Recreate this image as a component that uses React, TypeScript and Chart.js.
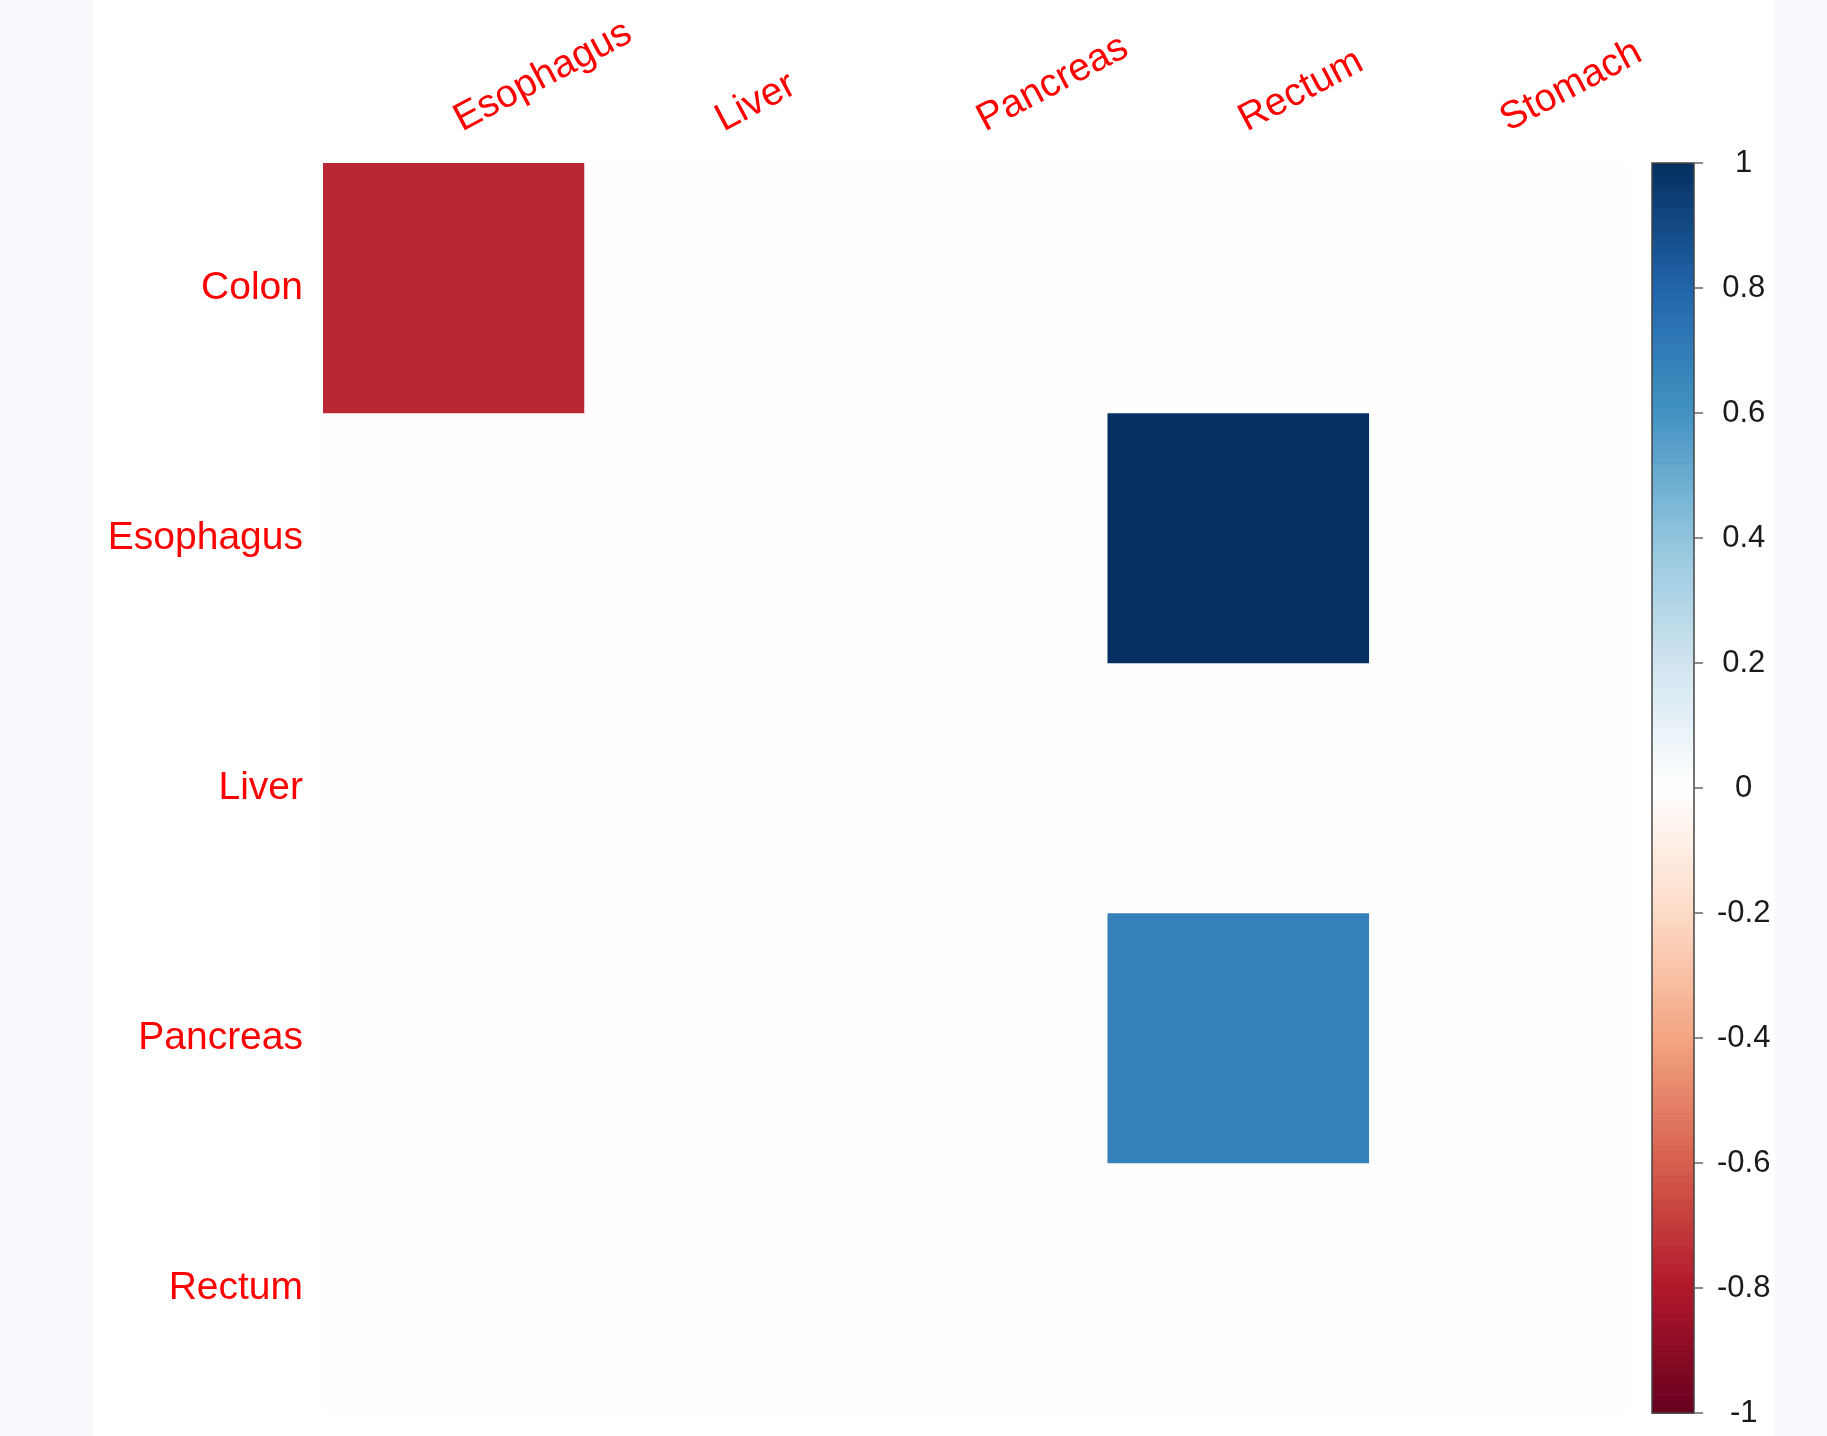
import React, { useEffect, useRef } from "react";
import { Chart, registerables } from "chart.js";

Chart.register(...registerables);

// ---- data ----
const rowLabels = ["Colon", "Esophagus", "Liver", "Pancreas", "Rectum"];
const colLabels = ["Esophagus", "Liver", "Pancreas", "Rectum", "Stomach"];
const corrColon = [-0.76, 0, 0, 0, 0];
const corrEsophagus = [0, 0, 0, 1, 0];
const corrLiver = [0, 0, 0, 0, 0];
const corrPancreas = [0, 0, 0, 0.67, 0];
const corrRectum = [0, 0, 0, 0, 0];
const corrRows = [corrColon, corrEsophagus, corrLiver, corrPancreas, corrRectum];
const colorbarTicks = [-1, -0.8, -0.6, -0.4, -0.2, 0, 0.2, 0.4, 0.6, 0.8, 1];
const rdbuStops = [
  "#67001F", "#B2182B", "#D6604D", "#F4A582", "#FDDBC7", "#FFFFFF",
  "#D1E5F0", "#92C5DE", "#4393C3", "#2166AC", "#053061",
];
const N_COLORS = 200;

const FONT = "'Liberation Sans', Arial, sans-serif";

function hexToRgb(h: string) {
  const n = parseInt(h.slice(1), 16);
  return [(n >> 16) & 255, (n >> 8) & 255, n & 255];
}
function rampColor(t: number) {
  const n = rdbuStops.length - 1;
  const p = Math.max(0, Math.min(1, t)) * n;
  const i = Math.min(Math.floor(p), n - 1);
  const f = p - i;
  const a = hexToRgb(rdbuStops[i]);
  const b = hexToRgb(rdbuStops[i + 1]);
  const c = a.map((v, k) => Math.round(v + (b[k] - v) * f));
  return `rgb(${c[0]},${c[1]},${c[2]})`;
}
function corrColor(v: number) {
  let nc = (v + 1) / 2;
  if (nc >= 1) nc = 1 - 1e-10;
  const idx = Math.floor(nc * N_COLORS);
  return rampColor(idx / (N_COLORS - 1));
}

const colorbarPlugin = {
  id: "colorbar",
  afterDraw(chart: any) {
    const s = chart.scales.y2;
    const ctx = chart.ctx;
    const x0 = chart.chartArea.right + 21;
    const w = 42;
    ctx.save();
    for (let k = 0; k < N_COLORS; k++) {
      const v0 = -1 + (2 * k) / N_COLORS;
      const v1 = -1 + (2 * (k + 1)) / N_COLORS;
      const yA = s.getPixelForValue(v1);
      const yB = s.getPixelForValue(v0);
      ctx.fillStyle = rampColor(k / (N_COLORS - 1));
      ctx.fillRect(x0, yA, w, yB - yA + 0.6);
    }
    const yTop = s.getPixelForValue(1);
    const yBot = s.getPixelForValue(-1);
    ctx.strokeStyle = "#444";
    ctx.lineWidth = 1.5;
    ctx.strokeRect(x0, yTop, w, yBot - yTop);
    ctx.strokeStyle = "#666";
    ctx.lineWidth = 1.5;
    for (const t of colorbarTicks) {
      const y = s.getPixelForValue(t);
      ctx.beginPath();
      ctx.moveTo(x0 + w, y);
      ctx.lineTo(x0 + w + 9, y);
      ctx.stroke();
    }
    ctx.restore();
  },
};

export default function App() {
  const ref = useRef<HTMLCanvasElement>(null);

  useEffect(() => {
    if (!ref.current) return;
    const chart = new Chart(ref.current, {
      type: "bar",
      data: {
        labels: colLabels,
        datasets: corrRows.map((row, i) => ({
          label: rowLabels[i],
          data: row.map(() => 1),
          backgroundColor: row.map(corrColor),
          borderWidth: 0,
          barPercentage: 1,
          categoryPercentage: 1,
        })),
      },
      options: {
        responsive: false,
        animation: false,
        layout: { padding: { left: 0, right: 0, top: 0, bottom: 23 } },
        plugins: {
          legend: { display: false },
          tooltip: { enabled: false },
        },
        scales: {
          x: {
            type: "category",
            position: "top",
            stacked: true,
            grid: { display: false, drawTicks: false },
            border: { display: false },
            ticks: {
              color: "#FF0000",
              font: { family: FONT, size: 39 },
              minRotation: 28,
              maxRotation: 28,
              autoSkip: false,
              padding: 20,
              labelOffset: 25,
            },
            afterFit: (scale: any) => {
              scale.height = 163;
              scale.paddingTop = 0;
              scale.paddingBottom = 0;
            },
          },
          y: {
            type: "linear",
            position: "left",
            stacked: true,
            reverse: true,
            min: 0,
            max: 5,
            grid: { display: false, drawTicks: false },
            border: { display: false },
            afterBuildTicks: (scale: any) => {
              scale.ticks = rowLabels.map((_, i) => ({ value: i + 0.5 }));
            },
            ticks: {
              color: "#FF0000",
              font: { family: FONT, size: 39 },
              padding: 20,
              autoSkip: false,
              callback: (v: any) => rowLabels[Math.floor(Number(v))] ?? "",
            },
            afterFit: (scale: any) => {
              scale.width = 323;
              scale.paddingTop = 0;
              scale.paddingBottom = 0;
            },
          },
          y2: {
            type: "linear",
            position: "right",
            min: -1,
            max: 1,
            grid: { display: false, drawTicks: false },
            border: { display: false },
            afterBuildTicks: (scale: any) => {
              scale.ticks = colorbarTicks.map((v) => ({ value: v }));
            },
            ticks: {
              color: "#1a1a1a",
              font: { family: FONT, size: 31 },
              padding: 86,
              crossAlign: "center",
              autoSkip: false,
              callback: (v: any) => String(Math.round(Number(v) * 10) / 10),
            },
            afterFit: (scale: any) => {
              scale.width = 196;
              scale.paddingTop = 0;
              scale.paddingBottom = 0;
            },
          },
        },
      } as any,
      plugins: [colorbarPlugin],
    });
    return () => chart.destroy();
  }, []);

  return (
    <div
      style={{
        position: "fixed",
        left: 0,
        top: 0,
        width: 1827,
        height: 1436,
        background: "#F9F8FD",
        overflow: "hidden",
      }}
    >
      <div
        style={{
          position: "absolute",
          left: 93,
          top: 0,
          width: 1682,
          height: 1436,
          background: "#FFFFFF",
        }}
      />
      <canvas
        ref={ref}
        width={1827}
        height={1436}
        style={{ position: "absolute", left: 0, top: 0, width: 1827, height: 1436 }}
      />
    </div>
  );
}
